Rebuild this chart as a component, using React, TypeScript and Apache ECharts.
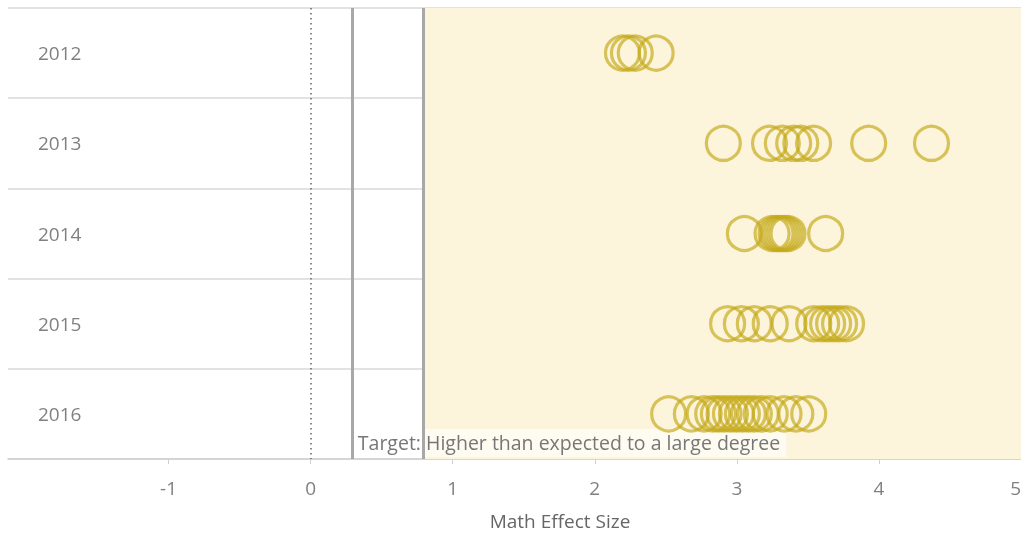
import React, { useEffect, useRef } from "react";
import * as echarts from "echarts";

const years = ["2012", "2013", "2014", "2015", "2016"];
const effects2012 = [2.195, 2.237, 2.285, 2.432];
const effects2013 = [2.905, 3.23, 3.32, 3.4, 3.45, 3.54, 3.928, 4.37];
const effects2014 = [3.053, 3.248, 3.276, 3.297, 3.318, 3.339, 3.36, 3.625];
const effects2015 = [2.935, 3.032, 3.123, 3.235, 3.367, 3.541, 3.597, 3.639, 3.681, 3.723, 3.772];
const effects2016 = [2.52, 2.68, 2.77, 2.83, 2.87, 2.91, 2.955, 2.997, 3.039, 3.081, 3.123, 3.172, 3.235, 3.332, 3.415, 3.506];
const tickValues = [-1, 0, 1, 2, 3, 4, 5];
const zeroLine = 0;
const targetLow = 0.29;
const targetHigh = 0.79;
const axisMin = -2.13;
const axisMax = 5;
const targetLabel = "Target: Higher than expected to a large degree";
const axisTitle = "Math Effect Size";

const FONT = "'Segoe UI', 'Open Sans', sans-serif";

export default function App() {
  const ref = useRef<HTMLDivElement>(null);
  useEffect(() => {
    if (!ref.current) return;
    const chart = echarts.init(ref.current, undefined, { renderer: "svg" });
    const groups = [effects2012, effects2013, effects2014, effects2015, effects2016];
    const points: [number, string][] = [];
    groups.forEach((g, i) => g.forEach((v) => points.push([v, years[i]])));
    chart.setOption({
      animation: false,
      grid: { left: 8, right: 0, top: 8, bottom: 75, containLabel: false },
      xAxis: {
        type: "value",
        min: axisMin,
        max: axisMax,
        name: axisTitle,
        nameLocation: "middle",
        nameGap: 52,
        nameTextStyle: { color: "#666", fontSize: 19, fontFamily: FONT, padding: [0, 0, 0, 91] },
        axisLine: { show: true, lineStyle: { color: "#d0d0d0", width: 1.5 } },
        axisTick: { show: true, length: 5, customValues: tickValues, lineStyle: { color: "#d0d0d0" } },
        axisLabel: {
          customValues: tickValues,
          color: "#808080",
          fontSize: 19,
          fontFamily: FONT,
          margin: 19,
          alignMaxLabel: "right",
        },
        splitLine: { show: false },
      },
      yAxis: {
        type: "category",
        data: years,
        inverse: true,
        boundaryGap: true,
        axisLine: { show: false },
        axisTick: { show: false },
        axisLabel: { inside: true, margin: 30, color: "#808080", fontSize: 19, fontFamily: FONT, align: "left", padding: [0, 0, 4, 0] },
        splitLine: { show: true, lineStyle: { color: "#d8d8d8", width: 1.5 } },
      },
      series: [
        {
          type: "scatter",
          data: [],
          z: 1,
          silent: true,
          markArea: {
            silent: true,
            itemStyle: { color: "#fdf4dc" },
            data: [[{ xAxis: targetHigh }, { xAxis: axisMax }]],
          },
        },
        {
          type: "scatter",
          data: [],
          z: 2,
          silent: true,
          markLine: {
            silent: true,
            symbol: "none",
            label: { show: false },
            data: [
              { xAxis: zeroLine, lineStyle: { color: "#666", type: [1.5, 3.5], width: 1.5 } },
              { xAxis: targetLow, lineStyle: { color: "#a8a8a8", type: "solid", width: 3 } },
              { xAxis: targetHigh, lineStyle: { color: "#a8a8a8", type: "solid", width: 3 } },
            ],
          },
        },
        {
          type: "scatter",
          data: points,
          z: 3,
          symbol: "circle",
          symbolSize: 34,
          itemStyle: { color: "rgba(0,0,0,0)", borderColor: "rgba(196,170,25,0.85)", borderWidth: 3.2 },
        },
        {
          type: "scatter",
          data: [],
          z: 4,
          silent: true,
          markArea: {
            silent: true,
            itemStyle: { color: "rgba(0,0,0,0)" },
            label: {
              show: true,
              position: "insideBottomLeft",
              distance: 2,
              formatter: targetLabel,
              color: "#777",
              fontSize: 19.5,
              fontFamily: FONT,
              backgroundColor: "rgba(255,255,255,0.6)",
              padding: [3, 6, 5, 4],
            },
            data: [[{ xAxis: targetLow }, { xAxis: targetHigh }]],
          },
        },
      ],
    });
    return () => chart.dispose();
  }, []);
  return <div ref={ref} style={{ position: "fixed", left: 0, top: 0, width: 1024, height: 535 }} />;
}
